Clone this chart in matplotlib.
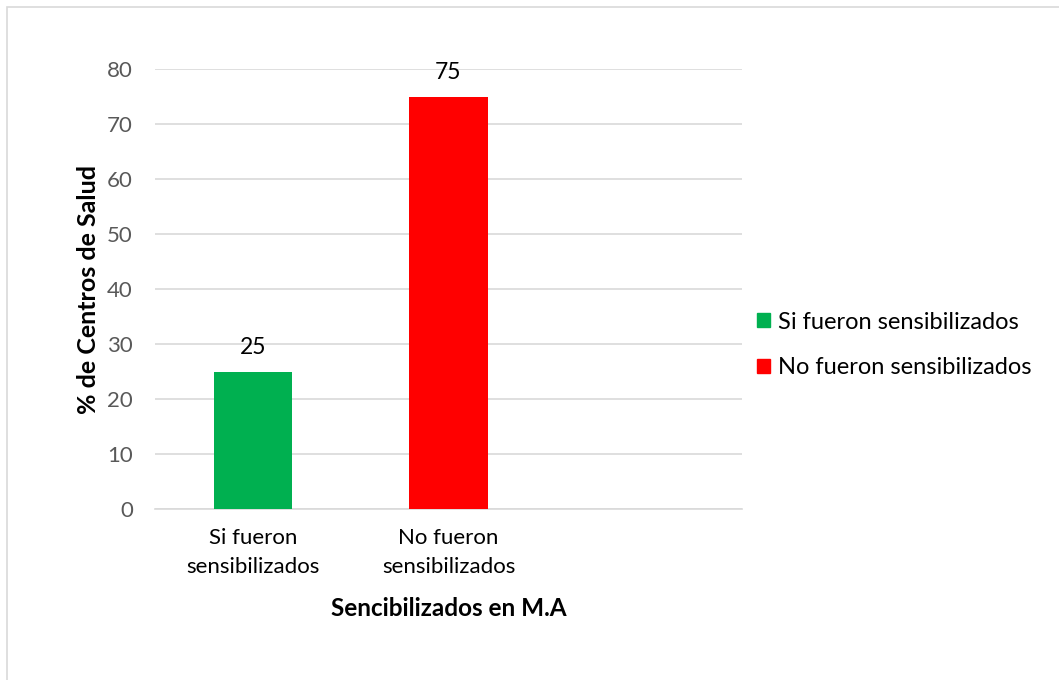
import matplotlib.pyplot as plt
import matplotlib.patches as mpatches

# data
categorias = ["Si fueron\nsensibilizados", "No fueron\nsensibilizados", ""]
valores = [25, 75]
colores = ["#00B050", "#FF0000"]
leyenda = ["Si fueron sensibilizados", "No fueron sensibilizados"]
yticks = [0, 10, 20, 30, 40, 50, 60, 70, 80]

plt.rcParams['font.family'] = ['Lato', 'DejaVu Sans']

fig = plt.figure(figsize=(10.59, 6.8), dpi=100)
# chart area border
fig.patches.append(mpatches.Rectangle((7 / 1059, -0.1), 1.2, 1 - 7 / 680 + 0.1,
                                      transform=fig.transFigure, fill=False,
                                      edgecolor="#D9D9D9", linewidth=1.2))

ax = fig.add_axes([155 / 1059, 1 - 509 / 680, 587 / 1059, 440 / 680])
x = list(range(len(valores)))
bars = ax.bar(x, valores, width=0.4, color=colores, zorder=3)
for xi, v in zip(x, valores):
    ax.annotate(str(v), (xi, v), xytext=(0, 10), textcoords="offset points",
                ha="center", va="bottom", fontsize=16.5, color="#000000")

ax.set_xlim(-0.5, 2.5)
ax.set_ylim(0, 80)
ax.set_yticks(yticks)
ax.set_xticks(range(len(categorias)))
ax.set_xticklabels(categorias, fontsize=16, color="#000000", linespacing=1.55)
ax.tick_params(axis="y", labelsize=16, colors="#595959", length=0, pad=16)
ax.tick_params(axis="x", length=0, pad=14)
ax.grid(axis="y", color="#D9D9D9", linewidth=1.2, zorder=0)
for s in ["top", "right", "left"]:
    ax.spines[s].set_visible(False)
ax.spines["bottom"].set_color("#D9D9D9")
ax.spines["bottom"].set_linewidth(1.2)

fig.text(88 / 1059, 1 - 289 / 680, "% de Centros de Salud", rotation=90,
         ha="center", va="center", fontsize=18, fontweight="bold")
fig.text(449 / 1059, 1 - 609 / 680, "Sencibilizados en M.A", ha="center", va="center",
         fontsize=17.5, fontweight="bold")

handles = [mpatches.Patch(color=c, label=l) for c, l in zip(colores, leyenda)]
fig.legend(handles=handles, loc="center left", bbox_to_anchor=(736 / 1059, 1 - 345 / 680),
           frameon=False, fontsize=17, handlelength=0.55, handleheight=0.55,
           handletextpad=0.35, labelspacing=1.05)

fig.savefig("out.png", dpi=100)
